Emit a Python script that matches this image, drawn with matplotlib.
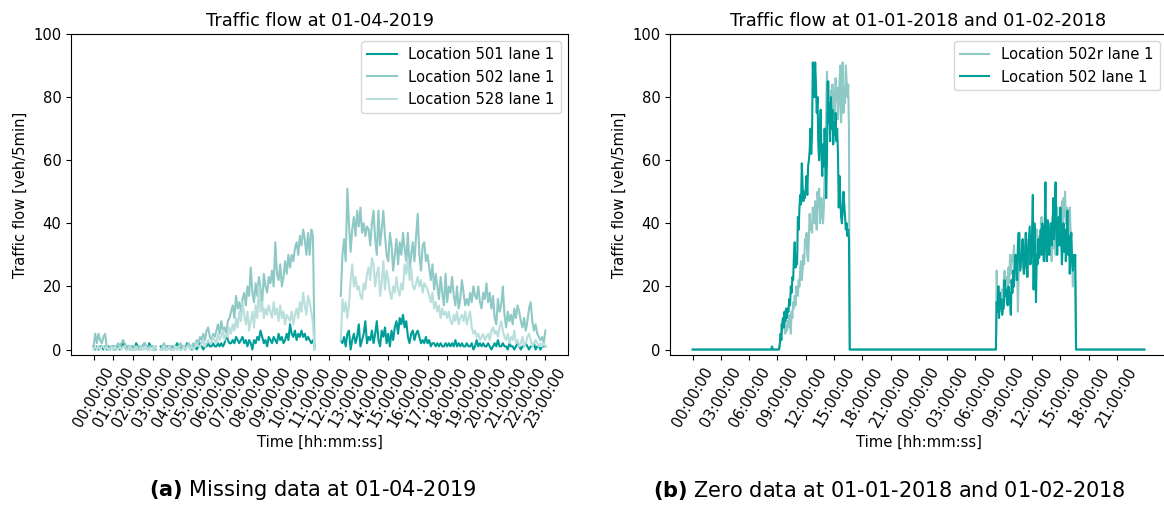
import numpy as np
import matplotlib
matplotlib.use("Agg")
import matplotlib.pyplot as plt

# 5-minute traffic counts [veh/5min]; None marks missing samples

# 01-04-2019, 00:00 .. 23:00
flow_501 = [
    1, 0, 1, 0, 1, 1, 0, 1, 0, 1, 0, 1,
    1, 0, 1, 1, 0, 1, 2, 1, 0, 1, 1, 0,
    1, 0, 2, 1, 0, 1, 1, 2, 1, 0, 2, 1,
    1, 0, 0, None, None, 1, 0, 1, 0, 1, 1, 0,
    1, 0, 1, 2, 1, 0, 1, 1, 0, 2, 1, 1,
    0, 1, 1, 0, 1, 2, 1, 0, 1, 1, 2, 1,
    1, 2, 1, 1, 2, 1, 2, 1, 2, 5, 3, 2,
    2, 3, 2, 4, 3, 2, 3, 4, 2, 3, 1, 3,
    2, 0, 3, 2, 4, 3, 6, 4, 2, 3, 1, 4,
    3, 2, 4, 3, 2, 5, 3, 4, 2, 3, 5, 3,
    8, 5, 4, 6, 3, 5, 4, 6, 4, 5, 3, 4,
    3, 2, 3, 1, None, None, None, None, None, None, None, None,
    None, None, None, None, None, None, None, 3, 2, 4, 1, 5,
    6, 0, 3, 5, 2, 4, 8, 1, 3, 5, 9, 2,
    4, 3, 6, 2, 5, 9, 3, 1, 6, 4, 7, 2,
    5, 1, 6, 3, 7, 9, 5, 10, 8, 11, 7, 9,
    4, 2, 5, 6, 3, 5, 6, 4, 2, 3, 2, 4,
    2, 3, 1, 2, 2, 1, 2, 1, 2, 1, 1, 2,
    1, 2, 1, 2, 1, 3, 1, 2, 1, 2, 1, 1,
    2, 1, 1, 2, 0, 1, 3, 1, 2, 1, 2, 1,
    1, 2, 1, 0, 1, 2, 1, 3, 1, 1, 2, 1,
    1, 0, 2, 1, 1, 0, 1, 2, 1, 0, 1, 1,
    2, 1, 0, 1, 1, 2, 0, 1, 1, 0, 1, 1,
    1,
]

flow_502 = [
    1, 5, 2, 5, 3, 2, 4, 5, 1, 0, 1, 1,
    0, 1, 1, 2, 1, 2, 3, 2, 1, 1, 0, 1,
    0, 1, 0, 1, 1, 0, 1, 2, 1, 0, 1, 1,
    1, 0, 1, None, None, 0, 1, 2, 1, 0, 1, 1,
    0, 1, 1, 0, 1, 2, 1, 1, 0, 1, 2, 1,
    1, 2, 1, 3, 2, 4, 3, 5, 3, 6, 7, 4,
    3, 5, 4, 6, 8, 5, 9, 6, 7, 5, 9, 10,
    12, 14, 10, 17, 13, 15, 12, 16, 18, 14, 20, 17,
    26, 18, 15, 21, 17, 23, 19, 15, 24, 20, 18, 23,
    21, 25, 20, 34, 24, 22, 27, 20, 23, 28, 24, 30,
    26, 30, 28, 32, 34, 30, 36, 33, 38, 35, 30, 37,
    30, 38, 36, 0, None, None, None, None, None, None, None, None,
    None, None, None, None, None, None, None, 17, 30, 35, 28, 51,
    40, 31, 38, 42, 36, 44, 39, 45, 37, 40, 36, 39,
    38, 33, 40, 44, 35, 30, 44, 33, 38, 44, 36, 30,
    28, 37, 33, 25, 30, 35, 27, 34, 30, 37, 32, 28,
    37, 25, 30, 34, 28, 36, 43, 30, 25, 33, 34, 28,
    30, 26, 22, 27, 19, 24, 20, 16, 23, 18, 14, 24,
    15, 20, 18, 23, 17, 14, 20, 13, 16, 22, 18, 14,
    16, 14, 18, 15, 20, 17, 16, 20, 15, 13, 18, 16,
    21, 15, 18, 13, 17, 10, 8, 16, 12, 14, 20, 11,
    7, 12, 9, 11, 8, 13, 10, 14, 12, 9, 7, 10,
    6, 9, 13, 15, 9, 6, 8, 5, 4, 3, 4, 2,
    6,
]

flow_528 = [
    0, 1, 0, 1, 0, 1, 1, 0, 1, 0, 0, 1,
    0, 1, 0, 0, 1, 0, 1, 1, 0, 0, 1, 0,
    0, 0, 1, 0, 0, 1, 0, 0, 1, 0, 0, 0,
    0, 1, 0, None, None, 0, 0, 1, 0, 0, 1, 0,
    0, 0, 1, 0, 1, 0, 0, 1, 0, 1, 1, 0,
    1, 0, 1, 2, 1, 1, 2, 3, 1, 2, 3, 2,
    2, 4, 3, 2, 5, 3, 4, 6, 3, 5, 4, 7,
    5, 8, 6, 10, 7, 12, 9, 15, 11, 8, 12, 6,
    9, 12, 7, 14, 10, 20, 12, 15, 10, 13, 11, 14,
    12, 10, 15, 11, 13, 9, 14, 10, 12, 8, 11, 10,
    9, 12, 8, 11, 13, 10, 15, 12, 18, 14, 11, 17,
    15, 12, 8, 0, None, None, None, None, None, None, None, None,
    None, None, None, None, None, None, None, 3, 16, 12, 15, 10,
    14, 22, 27, 20, 23, 19, 20, 17, 16, 21, 19, 24,
    26, 22, 29, 27, 20, 24, 26, 17, 21, 28, 19, 25,
    22, 18, 16, 20, 18, 23, 19, 17, 21, 19, 27, 24,
    29, 22, 26, 20, 19, 21, 23, 20, 22, 18, 21, 20,
    19, 17, 15, 18, 13, 15, 12, 14, 10, 13, 11, 12,
    10, 12, 9, 8, 11, 9, 12, 8, 10, 11, 9, 12,
    8, 10, 12, 7, 5, 6, 4, 5, 3, 4, 5, 3,
    4, 5, 3, 6, 7, 5, 6, 4, 7, 9, 6, 4,
    3, 5, 2, 4, 3, 6, 2, 3, 1, 2, 4, 1,
    2, 4, 5, 3, 1, 2, 3, 2, 1, 2, 1, 2,
    1,
]

# 01-01-2018 and 01-02-2018, two full days; sensor reports zeros outside
# the active windows
day1_502_active = [          # 09:15 .. 16:35
    2, 5, 3, 8, 10, 7, 12, 9, 13,
    10, 13, 12, 16, 14, 20, 18, 23, 22, 30, 34, 26,
    28, 27, 42, 38, 45, 49, 46, 59, 52, 47, 50, 48,
    51, 55, 49, 58, 60, 63, 70, 62, 68, 91, 82, 80,
    91, 84, 75, 80, 65, 60, 70, 76, 62, 55, 65, 58,
    70, 62, 48, 60, 85, 72, 78, 66, 80, 70, 76, 65,
    72, 68, 75, 66, 70, 62, 45, 55, 48, 42, 40, 44,
    50, 46, 42, 38, 40, 36, 38, 35,
]
day1_502r_active = [         # 09:15 .. 16:35
    1, 4, 8, 6, 10, 7, 9, 5, 8,
    6, 9, 7, 11, 8, 5, 12, 10, 15, 13, 17, 14,
    20, 18, 17, 22, 20, 26, 28, 22, 25, 30, 27, 35,
    33, 37, 30, 28, 36, 43, 38, 40, 37, 45, 42, 40,
    47, 44, 38, 50, 45, 51, 40, 46, 48, 42, 40, 45,
    55, 62, 75, 88, 80, 85, 78, 82, 73, 80, 84, 76,
    82, 75, 86, 79, 83, 73, 78, 85, 90, 72, 80, 91,
    75, 83, 78, 90, 85, 80, 84, 70,
]
day2_502_active = [          # 08:15 .. 16:35
    15, 12, 20, 10, 18, 13, 16, 11, 13,
    13, 22, 17, 19, 15, 14, 20, 18, 15, 11, 22, 18,
    25, 20, 28, 30, 27, 22, 33, 37, 30, 25, 28, 31,
    35, 27, 24, 30, 37, 28, 23, 31, 35, 39, 27, 30,
    37, 49, 19, 40, 33, 15, 30, 27, 35, 29, 32, 38,
    30, 40, 35, 28, 36, 53, 32, 28, 41, 35, 30, 38,
    40, 33, 37, 48, 35, 46, 53, 38, 30, 37, 42, 33,
    45, 36, 27, 33, 40, 31, 38, 28, 35, 44, 30, 36,
    24, 33, 37, 28, 25, 30, 27, 30,
]
day2_502r_active = [         # 08:15 .. 16:35
    25, 14, 18, 20, 15, 17, 12, 19, 16,
    22, 25, 18, 20, 23, 18, 26, 21, 30, 24, 27, 30,
    28, 33, 26, 30, 22, 27, 12, 25, 37, 29, 26, 32,
    28, 24, 33, 30, 26, 35, 23, 29, 32, 27, 34, 30,
    28, 32, 26, 35, 30, 24, 38, 33, 29, 36, 31, 35,
    42, 33, 30, 38, 35, 40, 28, 34, 31, 36, 30, 40,
    35, 28, 42, 37, 32, 40, 30, 38, 45, 33, 40, 36,
    41, 38, 47, 36, 48, 42, 50, 40, 45, 38, 44, 35,
    45, 38, 32, 27, 20, 28, 24, 22,
]

flow_502_2018 = ([0] * 101 + [1] + [0] * 9 + day1_502_active + [0] * 88
                 + [0] * 99 + day2_502_active + [0] * 88)
flow_502r_2018 = ([0] * 111 + day1_502r_active + [0] * 88
                  + [0] * 99 + day2_502r_active + [0] * 88)

ticks_a = [f"{h:02d}:00:00" for h in range(24)]
ticks_b = [f"{h:02d}:00:00" for h in range(0, 24, 3)] * 2

DARK = "#009e99"
MID = "#8fc9c6"
LIGHT = "#b9dfdd"
STEPS_PER_HOUR = 12

assert len(flow_501) == len(flow_502) == len(flow_528) == 277
assert len(flow_502_2018) == len(flow_502r_2018) == 576

plt.rcParams["font.size"] = 10.6

fig = plt.figure(figsize=(11.64, 5.07), dpi=100)
ax_a = fig.add_axes([71 / 1164, 0.300, 497 / 1164, 0.633])
ax_b = fig.add_axes([670 / 1164, 0.300, 497 / 1164, 0.633])

# (a) missing data
x_a = np.arange(len(flow_501))
ax_a.plot(x_a, np.array(flow_501, dtype=float), color=DARK, label="Location 501 lane 1")
ax_a.plot(x_a, np.array(flow_502, dtype=float), color=MID, label="Location 502 lane 1")
ax_a.plot(x_a, np.array(flow_528, dtype=float), color=LIGHT, label="Location 528 lane 1")
ax_a.set_xticks(np.arange(len(ticks_a)) * STEPS_PER_HOUR)
ax_a.set_xticklabels(ticks_a, rotation=60)
ax_a.set_title("Traffic flow at 01-04-2019", fontsize=12.8)

# (b) zero data
x_b = np.arange(len(flow_502_2018))
ax_b.plot(x_b, flow_502r_2018, color=MID, label="Location 502r lane 1")
ax_b.plot(x_b, flow_502_2018, color=DARK, label="Location 502 lane 1")
ax_b.set_xticks(np.arange(len(ticks_b)) * 3 * STEPS_PER_HOUR)
ax_b.set_xticklabels(ticks_b, rotation=60)
ax_b.set_title("Traffic flow at 01-01-2018 and 01-02-2018", fontsize=12.8)

for ax in (ax_a, ax_b):
    ax.set_ylim(-1.7, 100)
    ax.set_yticks([0, 20, 40, 60, 80, 100])
    ax.set_xlabel("Time [hh:mm:ss]")
    ax.set_ylabel("Traffic flow [veh/5min]")
    ax.legend(loc="upper right")

# sub-figure captions with a bold label
cap_y = 1 - 490 / 507
fig.text(313 / 1164, cap_y, r"$\mathbf{(a)}$ Missing data at 01-04-2019",
         ha="center", va="center", fontsize=15)
fig.text(889 / 1164, cap_y, r"$\mathbf{(b)}$ Zero data at 01-01-2018 and 01-02-2018",
         ha="center", va="center", fontsize=15)

fig.savefig("out.png", dpi=100)
